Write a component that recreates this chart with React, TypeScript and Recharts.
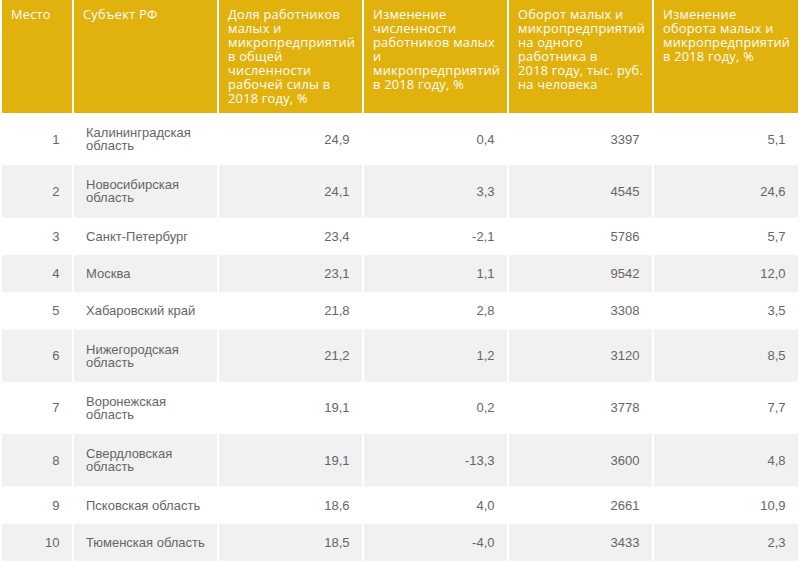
import React from 'react';
import { ComposedChart, Customized } from 'recharts';

// ---- data ----
const places = [1, 2, 3, 4, 5, 6, 7, 8, 9, 10];
const regions = [
  'Калининградская область',
  'Новосибирская область',
  'Санкт-Петербург',
  'Москва',
  'Хабаровский край',
  'Нижегородская область',
  'Воронежская область',
  'Свердловская область',
  'Псковская область',
  'Тюменская область',
];
const shareWorkers = [24.9, 24.1, 23.4, 23.1, 21.8, 21.2, 19.1, 19.1, 18.6, 18.5];
const workersChange = [0.4, 3.3, -2.1, 1.1, 2.8, 1.2, 0.2, -13.3, 4.0, -4.0];
const turnoverPerWorker = [3397, 4545, 5786, 9542, 3308, 3120, 3778, 3600, 2661, 3433];
const turnoverChange = [5.1, 24.6, 5.7, 12.0, 3.5, 8.5, 7.7, 4.8, 10.9, 2.3];

const headers: string[][] = [
  ['Место'],
  ['Субъект РФ'],
  ['Доля работников', 'малых и', 'микропредприятий', 'в общей', 'численности', 'рабочей силы в', '2018 году, %'],
  ['Изменение', 'численности', 'работников малых', 'и', 'микропредприятий', 'в 2018 году, %'],
  ['Оборот малых и', 'микропредприятий', 'на одного', 'работника в', '2018 году, тыс. руб.', 'на человека'],
  ['Изменение', 'оборота малых и', 'микропредприятий', 'в 2018 году, %'],
];

const rows = places.map((p, i) => ({
  place: p,
  region: regions[i],
  share: shareWorkers[i],
  wChange: workersChange[i],
  turnover: turnoverPerWorker[i],
  tChange: turnoverChange[i],
}));

// ---- layout / style ----
const W = 799;
const H = 562;
const cols: [number, number][] = [
  [2, 72],
  [74, 217],
  [219, 362],
  [364, 507],
  [509, 652],
  [654, 798],
];
const HEADER_H = 113;
const YELLOW = '#E1B10D';
const GREY = '#F1F1F1';
const BODY_COLOR = '#666666';
const BODY_FONT = '"Liberation Sans", Arial, sans-serif';
const HEAD_FONT = '"Open Sans", sans-serif';

const fmt1 = (v: number) => v.toFixed(1).replace('.', ',');

let ctx: CanvasRenderingContext2D | null = null;
function measure(s: string): number {
  if (!ctx) {
    const c = document.createElement('canvas');
    ctx = c.getContext('2d');
  }
  if (!ctx) return s.length * 7;
  ctx.font = '13px "Liberation Sans", Arial, sans-serif';
  return ctx.measureText(s).width;
}

function wrap(s: string, maxW: number): string[] {
  const words = s.split(' ');
  const lines: string[] = [];
  let cur = '';
  for (const w of words) {
    const t = cur ? cur + ' ' + w : w;
    if (cur && measure(t) > maxW) {
      lines.push(cur);
      cur = w;
    } else cur = t;
  }
  if (cur) lines.push(cur);
  return lines;
}

function Table() {
  const els: React.ReactNode[] = [];
  // header
  cols.forEach(([x0, x1], ci) => {
    els.push(<rect key={`h${ci}`} x={x0} y={0} width={x1 - x0} height={HEADER_H} fill={YELLOW} />);
    els.push(
      <text
        key={`ht${ci}`}
        x={x0 + 9}
        y={18.5}
        fill="#ffffff"
        fontFamily={HEAD_FONT}
        fontSize={12.8}
        fontWeight={500}
        letterSpacing={0.25}
      >
        {headers[ci].map((l, li) => (
          <tspan key={li} x={x0 + 9} y={18.5 + li * 14}>
            {l}
          </tspan>
        ))}
      </text>
    );
  });
  let y = HEADER_H;
  rows.forEach((r, ri) => {
    const nameLines = wrap(r.region, 122);
    const h = 37.3 + 15 * (nameLines.length - 1);
    const cy = y + h / 2;
    if (ri % 2 === 1) {
      cols.forEach(([x0, x1], ci) => {
        els.push(<rect key={`r${ri}c${ci}`} x={x0} y={y} width={x1 - x0} height={h} fill={GREY} />);
      });
    }
    const vals = [String(r.place), '', fmt1(r.share), fmt1(r.wChange), String(r.turnover), fmt1(r.tChange)];
    vals.forEach((v, ci) => {
      if (ci === 1) return;
      els.push(
        <text
          key={`v${ri}_${ci}`}
          x={cols[ci][1] - 12.5}
          y={cy + 4.5}
          textAnchor="end"
          fill={BODY_COLOR}
          fontFamily={BODY_FONT}
          fontSize={13}
        >
          {v}
        </text>
      );
    });
    const n = nameLines.length;
    els.push(
      <text key={`n${ri}`} fill={BODY_COLOR} fontFamily={BODY_FONT} fontSize={13}>
        {nameLines.map((l, li) => (
          <tspan key={li} x={cols[1][0] + 12} y={cy + 4.5 + (li - (n - 1) / 2) * 13}>
            {l}
          </tspan>
        ))}
      </text>
    );
    y += h;
  });
  return <g>{els}</g>;
}

export default function App() {
  return (
    <div style={{ position: 'absolute', left: 0, top: 0, width: W, height: H, background: '#fff' }}>
      <ComposedChart width={W} height={H} data={rows} margin={{ top: 0, right: 0, bottom: 0, left: 0 }}>
        <Customized component={<Table />} />
      </ComposedChart>
    </div>
  );
}
